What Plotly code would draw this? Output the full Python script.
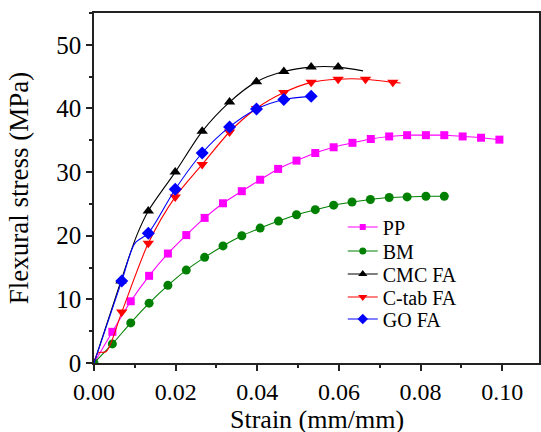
import plotly.graph_objects as go

# ---------------- data ----------------
pp_x = [0.0045, 0.0090, 0.0135, 0.0181, 0.0226, 0.0271, 0.0316, 0.0362, 0.0407, 0.0451, 0.0496,
        0.0542, 0.0587, 0.0633, 0.0678, 0.0723, 0.0767, 0.0813, 0.0858, 0.0903, 0.0948, 0.0993]
pp_y = [4.9, 9.7, 13.7, 17.2, 20.1, 22.8, 25.1, 27.0, 28.8, 30.5, 31.8,
        33.0, 33.9, 34.6, 35.2, 35.6, 35.8, 35.8, 35.8, 35.6, 35.4, 35.1]
pp_line_x = [0.0]
pp_line_y = [0.0]

bm_x = [0.0, 0.0045, 0.0090, 0.0135, 0.0181, 0.0226, 0.0271, 0.0316, 0.0362, 0.0407, 0.0452,
        0.0496, 0.0542, 0.0587, 0.0632, 0.0677, 0.0723, 0.0767, 0.0813, 0.0858]
bm_y = [0.0, 3.0, 6.3, 9.4, 12.2, 14.6, 16.6, 18.4, 20.0, 21.2, 22.3,
        23.3, 24.1, 24.8, 25.3, 25.7, 26.0, 26.1, 26.2, 26.2]
bm_line_x = []
bm_line_y = []

cmc_x = [0.0066, 0.0133, 0.0199, 0.0265, 0.0332, 0.0398, 0.0465, 0.0532, 0.0598]
cmc_y = [12.9, 23.9, 30.0, 36.4, 41.0, 44.2, 45.8, 46.5, 46.5]
cmc_line_x = [0.0, 0.0105, 0.0659]
cmc_line_y = [0.0, 20.1, 45.9]

ctab_x = [0.0068, 0.0133, 0.0199, 0.0265, 0.0332, 0.0398, 0.0465, 0.0532, 0.0598, 0.0665, 0.0732]
ctab_y = [8.0, 18.8, 26.1, 31.2, 36.3, 40.0, 42.5, 44.1, 44.6, 44.6, 44.1]
ctab_line_x = [0.0, 0.0010, 0.0030, 0.0751]
ctab_line_y = [0.0, 1.6, 1.8, 44.0]

go_x = [0.0068, 0.0133, 0.0199, 0.0265, 0.0332, 0.0398, 0.0465, 0.0532]
go_y = [12.9, 20.4, 27.3, 33.0, 37.1, 39.9, 41.4, 41.9]
go_line_x = [0.0, 0.0100]
go_line_y = [0.0, 18.8]

x_ticks = [0.00, 0.02, 0.04, 0.06, 0.08, 0.10]
y_ticks = [0, 10, 20, 30, 40, 50]
x_title = "Strain (mm/mm)"
y_title = "Flexural stress (MPa)"

series = [
    ("PP", pp_x, pp_y, pp_line_x, pp_line_y, "#FF00FF", "square", 8),
    ("BM", bm_x, bm_y, bm_line_x, bm_line_y, "#008000", "circle", 9),
    ("CMC FA", cmc_x, cmc_y, cmc_line_x, cmc_line_y, "#000000", "triangle-up", 10),
    ("C-tab FA", ctab_x, ctab_y, ctab_line_x, ctab_line_y, "#FF0000", "triangle-down", 10),
    ("GO FA", go_x, go_y, go_line_x, go_line_y, "#0000FF", "diamond", 10),
]

font_family = "Liberation Serif, Times New Roman, serif"

# legend item centres (paper coordinates), one small legend per series
legend_y = [0.3886, 0.32, 0.2543, 0.1886, 0.1257]

fig = go.Figure()
layout_legends = {}
for i, (name, mx, my, lx, ly, color, sym, ms) in enumerate(series):
    lg = "legend" if i == 0 else f"legend{i + 1}"
    pts = sorted(zip(list(mx) + list(lx), list(my) + list(ly)))
    fig.add_trace(go.Scatter(
        x=[p[0] for p in pts], y=[p[1] for p in pts], mode="lines",
        line=dict(color=color, width=1.1, shape="spline", smoothing=0.8),
        showlegend=False, hoverinfo="skip"))
    fig.add_trace(go.Scatter(
        x=mx, y=my, mode="markers",
        marker=dict(color=color, symbol=sym, size=ms, line=dict(width=0)),
        showlegend=False, name=name))
    fig.add_trace(go.Scatter(
        x=[None], y=[None], mode="lines+markers", name=name, legend=lg,
        line=dict(color=color, width=1.1),
        marker=dict(color=color, symbol=sym, size=ms - 2)))
    layout_legends[lg] = dict(
        x=0.559, y=legend_y[i], xanchor="left", yanchor="middle",
        font=dict(size=20, family=font_family, color="black"),
        bgcolor="rgba(0,0,0,0)", itemwidth=30)

fig.update_layout(
    width=541, height=432,
    margin=dict(l=94, r=2, t=13, b=69, autoexpand=False),
    paper_bgcolor="white", plot_bgcolor="white",
    font=dict(family=font_family, color="black"),
    showlegend=True,
    xaxis=dict(
        range=[0, 0.109], tickvals=x_ticks, ticktext=[f"{v:.2f}" for v in x_ticks],
        ticks="outside", ticklen=6, tickwidth=1.5, tickcolor="#222",
        minor=dict(ticks="outside", ticklen=3, tickwidth=1.5, tickcolor="#222", dtick=0.01),
        showline=True, linecolor="#222", linewidth=1.5, mirror=True,
        showgrid=False, zeroline=False, automargin=False,
        tickfont=dict(size=24, family=font_family),
    ),
    yaxis=dict(
        range=[0, 55], tickvals=y_ticks,
        ticks="outside", ticklen=6, tickwidth=1.5, tickcolor="#222",
        minor=dict(ticks="outside", ticklen=3, tickwidth=1.5, tickcolor="#222", dtick=5),
        showline=True, linecolor="#222", linewidth=1.5, mirror=True,
        showgrid=False, zeroline=False, automargin=False,
        tickfont=dict(size=25, family=font_family),
        title=dict(text=y_title, font=dict(size=27, family=font_family), standoff=20),
    ),
    annotations=[dict(
        text=x_title, xref="paper", yref="paper", x=0.5, y=-0.113,
        xanchor="center", yanchor="top", showarrow=False,
        font=dict(size=26, family=font_family, color="black"))],
    **layout_legends,
)

fig.write_html("out.html")
